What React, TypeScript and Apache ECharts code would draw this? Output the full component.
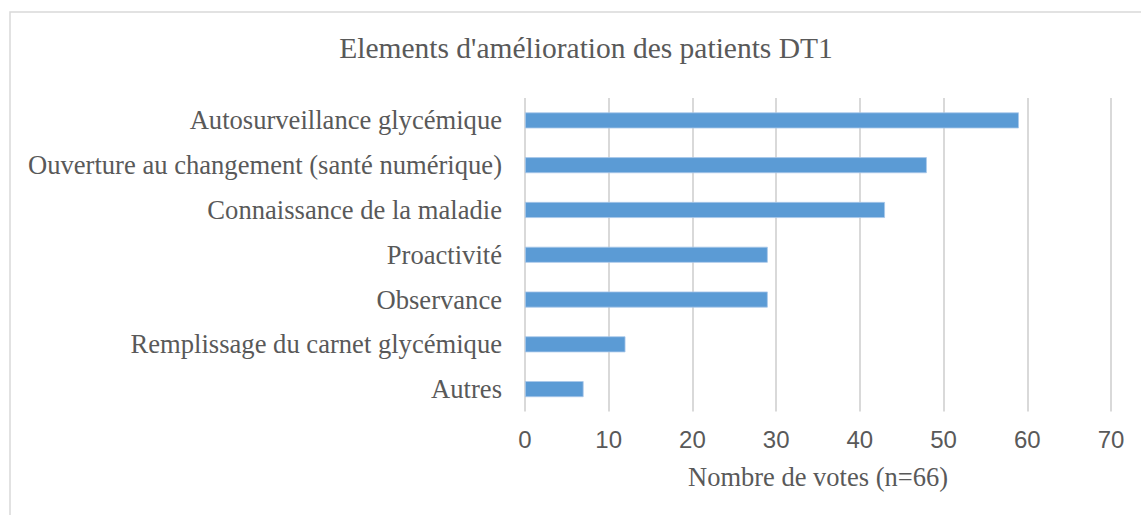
import React, { useEffect, useRef } from "react";
import * as echarts from "echarts";

const title = "Elements d'amélioration des patients DT1";
const categories = [
  "Autosurveillance glycémique",
  "Ouverture au changement (santé numérique)",
  "Connaissance de la maladie",
  "Proactivité",
  "Observance",
  "Remplissage du carnet glycémique",
  "Autres",
];
const votes = [59, 48, 43, 29, 29, 12, 7];
const axisName = "Nombre de votes (n=66)";
const xMin = 0;
const xMax = 70;
const xInterval = 10;

export default function App() {
  const ref = useRef<HTMLDivElement>(null);
  useEffect(() => {
    document.body.style.margin = "0";
    if (!ref.current) return;
    const chart = echarts.init(ref.current, undefined, { renderer: "svg" });
    chart.setOption({
      animation: false,
      backgroundColor: "#ffffff",
      title: {
        text: title,
        left: 581,
        textAlign: "center",
        top: 28,
        textStyle: {
          fontFamily: "Liberation Serif",
          fontSize: 29.5,
          fontWeight: "normal",
          color: "#595959",
        },
      },
      graphic: [
        {
          type: "rect",
          shape: { x: 10, y: 12, width: 1300, height: 700 },
          style: { fill: "none", stroke: "#d9d9d9", lineWidth: 1.5 },
          silent: true,
          z: -1,
        },
      ],
      grid: { left: 525, right: 30, top: 98, height: 313.5 },
      xAxis: {
        type: "value",
        min: xMin,
        max: xMax,
        interval: xInterval,
        axisLine: { show: false },
        axisTick: { show: false },
        splitLine: { show: true, lineStyle: { color: "#d9d9d9", width: 2 } },
        axisLabel: {
          margin: 16,
          fontFamily: "Liberation Sans",
          fontSize: 24,
          color: "#595959",
        },
        name: axisName,
        nameLocation: "middle",
        nameGap: 52,
        nameTextStyle: {
          fontFamily: "Liberation Serif",
          fontSize: 26.5,
          color: "#595959",
        },
      },
      yAxis: {
        type: "category",
        data: categories,
        inverse: true,
        axisLine: { show: false },
        axisTick: { show: false },
        splitLine: { show: false },
        axisLabel: {
          margin: 23,
          fontFamily: "Liberation Serif",
          fontSize: 26.6,
          color: "#595959",
        },
      },
      series: [
        {
          type: "bar",
          data: votes,
          barWidth: 16,
          itemStyle: { color: "#5b9bd5", borderColor: "#a9c8ea", borderWidth: 0.8 },
        },
      ],
    });
    return () => chart.dispose();
  }, []);
  return <div ref={ref} style={{ width: 1141, height: 515 }} />;
}
